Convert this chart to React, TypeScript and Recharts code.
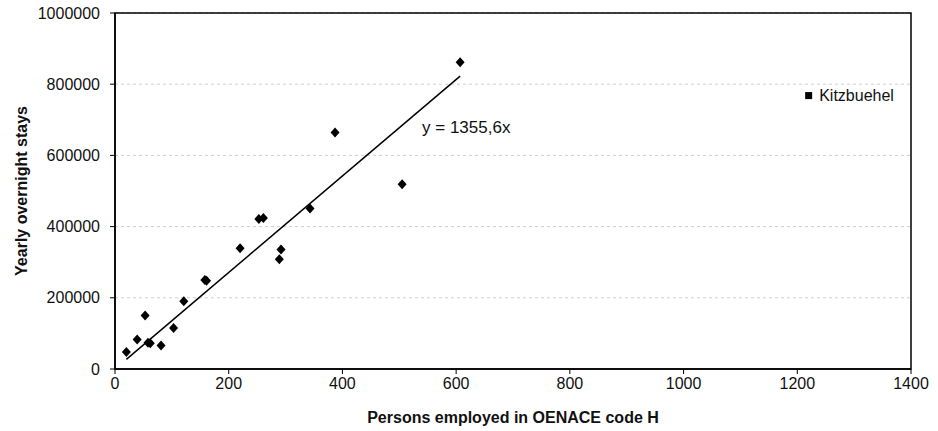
import {
  ScatterChart,
  Scatter,
  XAxis,
  YAxis,
  CartesianGrid,
  ReferenceArea,
  ReferenceDot,
  LabelList,
} from 'recharts'

// Districts: persons employed (x) vs yearly overnight stays (y)
const employed = [20, 39, 53, 58, 62, 81, 103, 121, 158, 161, 220, 253, 261, 289, 292, 343, 387, 505, 607]
const overnightStays = [
  48000, 83000, 150000, 74000, 72000, 66000, 115000, 190000, 250000, 248000,
  339000, 421000, 424000, 308000, 336000, 451000, 664000, 519000, 862000,
]

const outlierName = 'Kitzbuehel'
const outlierEmployed = 1220
const outlierStays = 768000

const trendSlope = 1355.6
const trendLabel = 'y = 1355,6x'

const xTicks = [0, 200, 400, 600, 800, 1000, 1200, 1400]
const yTicks = [0, 200000, 400000, 600000, 800000, 1000000]

const points = employed.map((x, i) => ({ x, y: overnightStays[i] }))
const outlier = [{ x: outlierEmployed, y: outlierStays, name: outlierName }]
const trendXs = [Math.min(...employed), Math.max(...employed)]
const trend = trendXs.map((x) => ({ x, y: x * trendSlope }))

const FONT = '"Liberation Sans", Arial, sans-serif'
const INK = '#111'

// eslint-disable-next-line @typescript-eslint/no-explicit-any
function Diamond({ cx, cy }: any) {
  const w = 4.5
  const h = 5
  return (
    <polygon
      points={`${cx},${cy - h} ${cx + w},${cy} ${cx},${cy + h} ${cx - w},${cy}`}
      fill="#000"
    />
  )
}

// eslint-disable-next-line @typescript-eslint/no-explicit-any
function Square({ cx, cy }: any) {
  return <rect x={cx - 3.5} y={cy - 3.5} width={7} height={7} fill="#000" />
}

export default function App() {
  return (
    <div style={{ position: 'absolute', left: 0, top: 0, background: '#fff' }}>
      <ScatterChart
        width={938}
        height={431}
        margin={{ top: 13, right: 27, bottom: 0, left: 0 }}
        style={{ fontFamily: FONT }}
      >
        <CartesianGrid
          horizontal
          vertical={false}
          stroke="#cfcfcf"
          strokeDasharray="3 3"
        />
        <XAxis
          type="number"
          dataKey="x"
          domain={[0, 1400]}
          ticks={xTicks}
          height={62}
          tickSize={5}
          tickMargin={4}
          axisLine={{ stroke: '#000', strokeWidth: 1.5 }}
          tickLine={{ stroke: '#000' }}
          tick={{ fill: INK, fontSize: 16, fontFamily: FONT }}
          label={{
            value: 'Persons employed in OENACE code H',
            position: 'insideBottom',
            offset: 8,
            fill: INK,
            fontSize: 16,
            fontWeight: 'bold',
            fontFamily: FONT,
          }}
        />
        <YAxis
          type="number"
          dataKey="y"
          domain={[0, 1000000]}
          ticks={yTicks}
          width={115}
          tickSize={5}
          tickMargin={10}
          axisLine={{ stroke: '#000', strokeWidth: 1.5 }}
          tickLine={{ stroke: '#000' }}
          tick={{ fill: INK, fontSize: 16, fontFamily: FONT }}
          label={{
            value: 'Yearly overnight stays',
            angle: -90,
            position: 'insideLeft',
            offset: 21,
            style: { textAnchor: 'middle' },
            fill: INK,
            fontSize: 16,
            fontWeight: 'bold',
            fontFamily: FONT,
          }}
        />
        <ReferenceArea
          x1={0}
          x2={1400}
          y1={0}
          y2={1000000}
          fill="none"
          stroke="#000"
          strokeWidth={1.5}
          fillOpacity={0}
        />
        <Scatter
          data={trend}
          line={{ stroke: '#000', strokeWidth: 1.5 }}
          shape={() => null}
          isAnimationActive={false}
        />
        <Scatter data={points} shape={<Diamond />} isAnimationActive={false} />
        <Scatter data={outlier} shape={<Square />} isAnimationActive={false}>
          <LabelList
            dataKey="name"
            position="right"
            offset={6}
            fill={INK}
            fontSize={16}
            fontFamily={FONT}
          />
        </Scatter>
        <ReferenceDot
          x={540}
          y={680000}
          r={0}
          fill="none"
          stroke="none"
          label={{
            value: trendLabel,
            position: 'right',
            offset: 0,
            fill: INK,
            fontSize: 17,
            fontFamily: FONT,
          }}
        />
      </ScatterChart>
    </div>
  )
}
